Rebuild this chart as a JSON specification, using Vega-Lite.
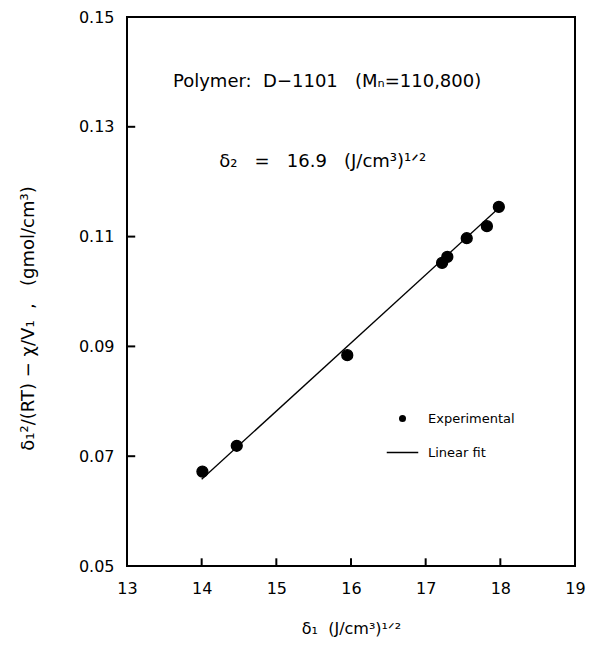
{
  "$schema": "https://vega.github.io/schema/vega-lite/v6.json",
  "width": 448,
  "height": 549,
  "autosize": "none",
  "padding": {"left": 127, "top": 17, "right": 17, "bottom": 86},
  "background": "white",
  "config": {
    "font": "DejaVu Sans",
    "view": {"stroke": "black", "strokeWidth": 2},
    "axis": {
      "domain": false, "ticks": false,
      "labelColor": "black", "labelFontSize": 16, "labelFont": "DejaVu Sans", "labelFlush": false,
      "titleColor": "black", "titleFontSize": 16, "titleFontWeight": "normal", "titleFont": "DejaVu Sans",
      "grid": false, "zindex": 1
    }
  },
  "datasets": {
    "exp": [
      {"delta1": 14.01, "value": 0.0672, "series": "Experimental"},
      {"delta1": 14.47, "value": 0.0719, "series": "Experimental"},
      {"delta1": 15.95, "value": 0.0884, "series": "Experimental"},
      {"delta1": 17.22, "value": 0.1052, "series": "Experimental"},
      {"delta1": 17.29, "value": 0.1063, "series": "Experimental"},
      {"delta1": 17.55, "value": 0.1097, "series": "Experimental"},
      {"delta1": 17.82, "value": 0.1119, "series": "Experimental"},
      {"delta1": 17.98, "value": 0.1154, "series": "Experimental"}
    ],
    "fit": [
      {"delta1": 14.0, "value": 0.0658},
      {"delta1": 17.98, "value": 0.1152}
    ],
    "xticks": [
      {"delta1": 14}, {"delta1": 15}, {"delta1": 16}, {"delta1": 17}, {"delta1": 18}
    ],
    "yticks": [
      {"value": 0.07}, {"value": 0.09}, {"value": 0.11}, {"value": 0.13}
    ]
  },
  "layer": [
    {
      "data": {"name": "fit"},
      "mark": {"type": "line", "color": "black", "strokeWidth": 1.3},
      "encoding": {
        "x": {"field": "delta1", "type": "quantitative",
              "scale": {"domain": [13, 19], "nice": false, "zero": false},
              "axis": {"values": [13, 14, 15, 16, 17, 18, 19], "format": "d", "title": "δ₁\u00a0\u00a0(J/cm³)¹ᐟ²", "labelPadding": 14, "titlePadding": 24}},
        "y": {"field": "value", "type": "quantitative",
              "scale": {"domain": [0.05, 0.15], "nice": false, "zero": false},
              "axis": {"values": [0.05, 0.07, 0.09, 0.11, 0.13, 0.15], "format": ".2f", "title": "δ₁²/(RT)\u00a0−\u00a0χ/V₁\u00a0\u00a0,\u00a0\u00a0\u00a0(gmol/cm³)", "labelPadding": 13,
                       "titleFontSize": 18, "titleX": -99, "titleY": 301, "titleBaseline": "middle", "titleAnchor": null}}
      }
    },
    {
      "data": {"name": "xticks"},
      "mark": {"type": "rule", "color": "black", "strokeWidth": 2, "opacity": 1},
      "encoding": {
        "x": {"field": "delta1", "type": "quantitative"},
        "y": {"datum": 0.05, "type": "quantitative"},
        "y2": {"datum": 0.0514}
      }
    },
    {
      "data": {"name": "yticks"},
      "mark": {"type": "rule", "color": "black", "strokeWidth": 2, "opacity": 1},
      "encoding": {
        "y": {"field": "value", "type": "quantitative"},
        "x": {"datum": 13, "type": "quantitative"},
        "x2": {"datum": 13.11}
      }
    },
    {
      "data": {"name": "exp"},
      "mark": {"type": "point", "filled": false, "fill": "black", "stroke": "black", "strokeWidth": 1.3, "size": 120, "opacity": 1, "fillOpacity": 1},
      "encoding": {
        "x": {"field": "delta1", "type": "quantitative"},
        "y": {"field": "value", "type": "quantitative"},
        "shape": {"field": "series", "type": "nominal",
                  "scale": {"domain": ["Experimental", "Linear fit"], "range": ["circle", "M-4.5,-0.2L4.5,-0.2L4.5,0.2L-4.5,0.2Z"]},
                  "legend": {"orient": "none", "legendX": 269, "legendY": 395, "title": null,
                             "labelFontSize": 13, "labelOffset": 19, "rowPadding": 20,
                             "symbolSize": 49, "symbolStrokeWidth": 1, "symbolStrokeColor": "black", "symbolFillColor": "black",
                             "labelColor": "black", "padding": 0}}
      }
    },
    {
      "data": {"values": [{"label": "Polymer:\u00a0\u00a0D−1101\u00a0\u00a0\u00a0(Mₙ=110,800)"}]},
      "mark": {"type": "text", "fontSize": 18, "align": "center", "baseline": "middle", "color": "black"},
      "encoding": {"x": {"datum": 15.68}, "y": {"datum": 0.1382}, "text": {"field": "label"}}
    },
    {
      "data": {"values": [{"label": "δ₂\u00a0\u00a0\u00a0=\u00a0\u00a0\u00a016.9\u00a0\u00a0\u00a0(J/cm³)¹ᐟ²"}]},
      "mark": {"type": "text", "fontSize": 18, "align": "center", "baseline": "middle", "color": "black"},
      "encoding": {"x": {"datum": 15.62}, "y": {"datum": 0.1236}, "text": {"field": "label"}}
    }
  ]
}
